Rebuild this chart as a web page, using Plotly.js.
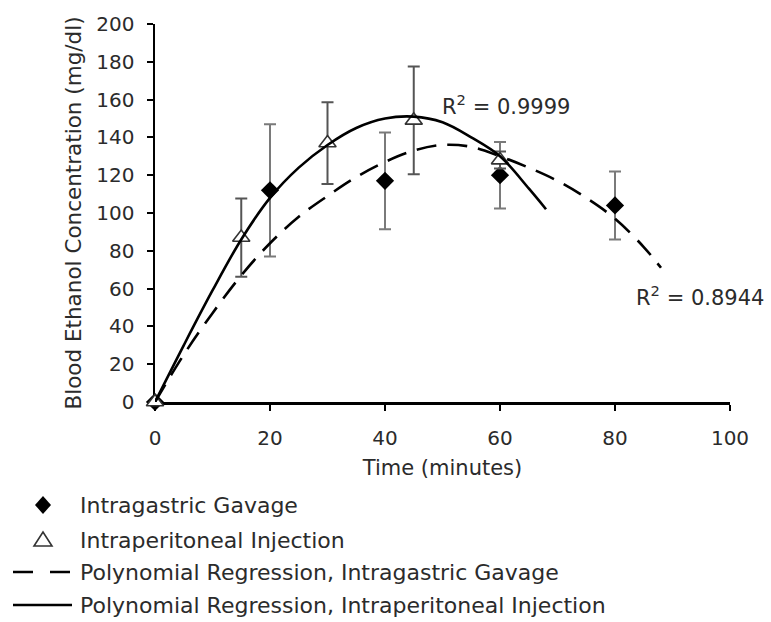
<!DOCTYPE html>
<html>
<head>
<meta charset="utf-8">
<script src="https://cdn.plot.ly/plotly-3.0.1.min.js"></script>
<style>html,body{margin:0;padding:0;background:#fff;}#chart{width:771px;height:622px;}</style>
</head>
<body>
<div id="chart"></div>
<script>
// ---- data ----
const gavageTime = [0, 20, 40, 60, 80];
const gavageConc = [0, 112, 117, 120, 104];
const gavageErr  = [0, 35, 25.6, 17.6, 18];

const injectionTime = [0, 15, 30, 45, 60];
const injectionConc = [0, 87, 137, 149, 128];
const injectionErr  = [0, 20.7, 21.6, 28.5, 4.5];

// regression curves
const gavageFitTime = [0, 5, 10, 15, 20, 25, 30, 35, 40, 45, 50, 55, 60, 65, 70, 75, 80, 85, 88];
const gavageFitConc = [0, 25, 47, 67, 84, 98, 109, 119, 127, 133, 136, 135, 130, 124, 117, 108, 97, 82, 71];

const injectionFitTime = [0, 5, 10, 15, 20, 25, 30, 35, 40, 45, 50, 55, 60, 65, 68];
const injectionFitConc = [0, 30, 59, 86, 108, 124, 136, 145, 150, 151, 148, 140, 130, 113, 102];

const xTickVals = [0, 20, 40, 60, 80, 100];
const yTickVals = [0, 20, 40, 60, 80, 100, 120, 140, 160, 180, 200];

const fitLabels = ["R<sup>2</sup> = 0.9999", "R<sup>2</sup> = 0.8944"];
const legendLabels = [
  "Intragastric Gavage",
  "Intraperitoneal Injection",
  "Polynomial Regression, Intragastric Gavage",
  "Polynomial Regression, Intraperitoneal Injection"
];
const xTitle = "Time (minutes)";
const yTitle = "Blood Ethanol Concentration (mg/dl)";

// ---- layout helpers ----
const W = 771, H = 622;
const M = {l: 155, r: 41, t: 24, b: 220};
const PW = W - M.l - M.r, PH = H - M.t - M.b;
const FONT = "DejaVu Sans, Verdana, sans-serif";
const TXT = "#2b2b2b";
function pxX(x) { return (x - M.l) / PW; }
function pxY(y) { return (H - M.b - y) / PH; }

const traces = [
  {
    x: gavageTime, y: gavageConc, type: "scatter", mode: "markers",
    name: legendLabels[0], cliponaxis: false,
    marker: {symbol: "diamond", size: 14, color: "#000", line: {width: 0}},
    error_y: {type: "data", array: gavageErr, visible: true, color: "#7a7a7a", thickness: 2, width: 6}
  },
  {
    x: injectionTime, y: injectionConc, type: "scatter", mode: "markers",
    name: legendLabels[1], cliponaxis: false,
    marker: {symbol: "triangle-up", size: 15, color: "#fff", line: {width: 1.6, color: "#333"}},
    error_y: {type: "data", array: injectionErr, visible: true, color: "#555", thickness: 2, width: 6}
  },
  {
    x: gavageFitTime, y: gavageFitConc, type: "scatter", mode: "lines",
    name: legendLabels[2], cliponaxis: false,
    line: {color: "#000", width: 2.6, dash: "20px,11px", shape: "spline", smoothing: 1}
  },
  {
    x: injectionFitTime, y: injectionFitConc, type: "scatter", mode: "lines",
    name: legendLabels[3], cliponaxis: false,
    line: {color: "#000", width: 2.6, shape: "spline", smoothing: 1}
  }
];

const rowY = [505, 540, 572, 605];
const annotations = [
  {x: 49.6, y: 157, xref: "x", yref: "y", text: fitLabels[0], showarrow: false,
   xanchor: "left", yanchor: "middle", font: {family: FONT, size: 21, color: TXT}},
  {x: 83.3, y: 56, xref: "x", yref: "y", text: fitLabels[1], showarrow: false,
   xanchor: "left", yanchor: "middle", font: {family: FONT, size: 21, color: TXT}}
];
legendLabels.forEach(function (t, i) {
  annotations.push({x: pxX(78), y: pxY(rowY[i]), xref: "paper", yref: "paper", text: t,
    showarrow: false, xanchor: "left", yanchor: "middle",
    font: {family: FONT, size: 22, color: TXT}});
});

const shapes = [
  {type: "path", xref: "paper", yref: "paper", xsizemode: "pixel", ysizemode: "pixel",
   xanchor: pxX(43), yanchor: pxY(rowY[0]), path: "M0,9 L8,0 L0,-9 L-8,0 Z",
   fillcolor: "#000", line: {width: 0}},
  {type: "path", xref: "paper", yref: "paper", xsizemode: "pixel", ysizemode: "pixel",
   xanchor: pxX(43), yanchor: pxY(rowY[1]), path: "M-9,-6 L9,-6 L0,8 Z",
   fillcolor: "#fff", line: {width: 1.6, color: "#333"}},
  {type: "line", xref: "paper", yref: "paper", x0: pxX(13), x1: pxX(72),
   y0: pxY(rowY[2]), y1: pxY(rowY[2]), line: {color: "#000", width: 2.6, dash: "20px,17px"}},
  {type: "line", xref: "paper", yref: "paper", x0: pxX(13), x1: pxX(72),
   y0: pxY(rowY[3]), y1: pxY(rowY[3]), line: {color: "#000", width: 2.6}}
];

const axisCommon = {
  showgrid: false, zeroline: false, showline: true, linecolor: "#000", linewidth: 2.5,
  ticks: "outside", ticklen: 6, tickwidth: 2, tickcolor: "#000",
  tickfont: {family: FONT, size: 20, color: TXT}, fixedrange: true, layer: "below traces"
};

const layout = {
  width: W, height: H, margin: M,
  paper_bgcolor: "#fff", plot_bgcolor: "#fff", showlegend: false,
  font: {family: FONT, color: TXT},
  xaxis: Object.assign({}, axisCommon, {
    range: [0, 100], tickmode: "array", tickvals: xTickVals, ticklabelstandoff: 10,
    title: {text: xTitle, font: {family: FONT, size: 21, color: TXT}, standoff: 12}
  }),
  yaxis: Object.assign({}, axisCommon, {
    range: [0, 200], tickmode: "array", tickvals: yTickVals, ticklabelstandoff: 8,
    title: {text: yTitle, font: {family: FONT, size: 21.5, color: TXT}, standoff: 9}
  }),
  annotations: annotations,
  shapes: shapes
};

Plotly.newPlot("chart", traces, layout, {staticPlot: true, displayModeBar: false});
</script>
</body>
</html>
